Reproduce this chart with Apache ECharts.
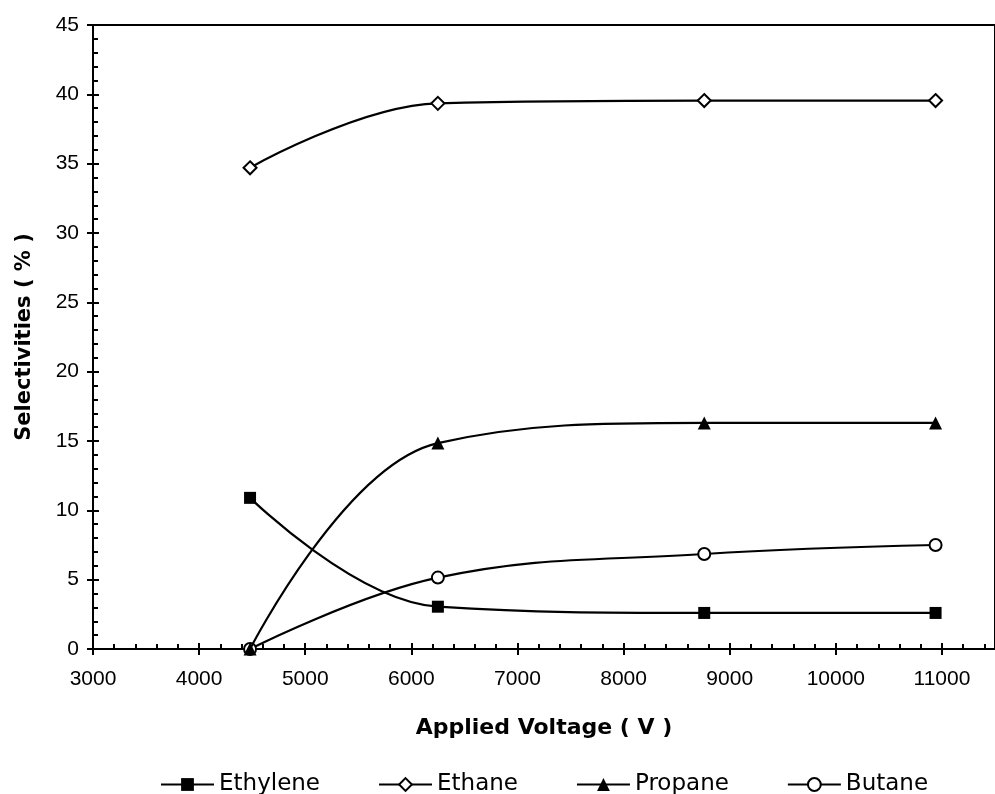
<!DOCTYPE html>
<html>
<head>
<meta charset="utf-8">
<script src="https://cdn.jsdelivr.net/npm/echarts@6/dist/echarts.min.js"></script>
<style>html,body{margin:0;padding:0;background:#fff;}#c{width:995px;height:794px;}</style>
</head>
<body>
<div id="c"></div>
<script>
const voltage = [4480, 6250, 8760, 10940];
const ethylene = [10.9, 3.05, 2.6, 2.6];
const ethane = [34.7, 39.35, 39.55, 39.55];
const propane = [0, 14.85, 16.3, 16.3];
const butane = [0, 5.15, 6.85, 7.5];
const seriesNames = ['Ethylene', 'Ethane', 'Propane', 'Butane'];
const xTitle = 'Applied Voltage ( V )';
const yTitle = 'Selectivities ( % )';

const pairs = arr => voltage.map((v, i) => [v, arr[i]]);
const chart = echarts.init(document.getElementById('c'), null, {renderer: 'canvas'});
const blk = '#000';
const lab = {color: blk, fontFamily: 'Liberation Sans', fontSize: 21, formatter: v => String(v)};
const xBase = {type: 'value', min: 3000, max: 11500, interval: 1000, position: 'bottom',
  splitLine: {show: false}, axisLine: {onZero: false, lineStyle: {color: blk, width: 2}}};
const yBase = {type: 'value', min: 0, max: 45, interval: 5, position: 'left',
  splitLine: {show: false}, axisLine: {onZero: false, lineStyle: {color: blk, width: 2}}};

function mk(name, data, symbol, size, hollow) {
  return {
    name, type: 'line', data: pairs(data), smooth: 0.4, symbol, symbolSize: size,
    xAxisIndex: 0, yAxisIndex: 0, z: hollow ? 3 : 4,
    lineStyle: {color: blk, width: 2.2},
    itemStyle: {color: hollow ? '#fff' : blk, borderColor: blk, borderWidth: hollow ? 2 : 0},
    emphasis: {disabled: true}
  };
}

chart.setOption({
  animation: false,
  backgroundColor: '#fff',
  grid: {left: 93, right: -12, top: 25, bottom: 145, show: true, borderColor: blk, borderWidth: 2, backgroundColor: 'transparent'},
  xAxis: [
    Object.assign({}, xBase, {
      name: xTitle, nameLocation: 'middle', nameGap: 68,
      nameTextStyle: {color: blk, fontFamily: 'DejaVu Sans', fontWeight: 'bold', fontSize: 22},
      axisTick: {show: true, inside: false, length: 6, lineStyle: {color: blk, width: 2}},
      axisLabel: Object.assign({margin: 20, showMaxLabel: false}, lab)
    }),
    Object.assign({}, xBase, {
      axisTick: {show: true, inside: true, length: 6, lineStyle: {color: blk, width: 2}},
      minorTick: {show: true, splitNumber: 5, length: 5, lineStyle: {color: blk, width: 2}},
      axisLabel: {show: false}
    })
  ],
  yAxis: [
    Object.assign({}, yBase, {
      name: yTitle, nameLocation: 'middle', nameGap: 58,
      nameTextStyle: {color: blk, fontFamily: 'DejaVu Sans', fontWeight: 'bold', fontSize: 21},
      axisTick: {show: true, inside: false, length: 6, lineStyle: {color: blk, width: 2}},
      axisLabel: Object.assign({margin: 14}, lab)
    }),
    Object.assign({}, yBase, {
      axisTick: {show: true, inside: true, length: 6, lineStyle: {color: blk, width: 2}},
      minorTick: {show: true, splitNumber: 5, length: 5, lineStyle: {color: blk, width: 2}},
      axisLabel: {show: false}
    })
  ],
  legend: {
    data: seriesNames, left: 155, top: 768, itemWidth: 53, itemHeight: 16, itemGap: 58,
    textStyle: {color: blk, fontFamily: 'DejaVu Sans', fontSize: 23}
  },
  series: [
    mk(seriesNames[0], ethylene, 'rect', 12, false),
    mk(seriesNames[1], ethane, 'diamond', 13, true),
    mk(seriesNames[3], butane, 'circle', 12, true),
    mk(seriesNames[2], propane, 'triangle', 13, false)
  ]
});
</script>
</body>
</html>
